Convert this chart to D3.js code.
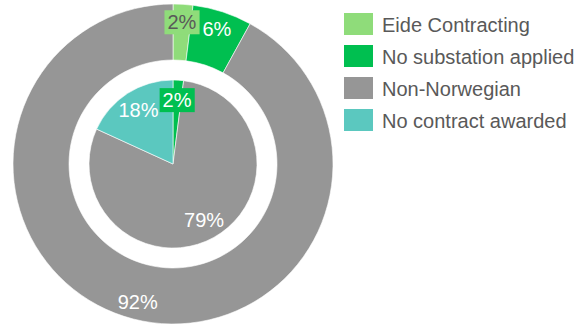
<!DOCTYPE html>
<html>
<head>
<meta charset="utf-8">
<script src="https://cdn.jsdelivr.net/npm/d3@7/dist/d3.min.js"></script>
<style>
  html, body { margin: 0; padding: 0; background: #fff; }
  svg { display: block; font-family: "Liberation Sans", Arial, sans-serif; }
</style>
</head>
<body>
<svg id="chart" width="587" height="329"></svg>
<script>
// Categories shared by both rings, in legend order
const categories = ["Eide Contracting", "No substation applied", "Non-Norwegian", "No contract awarded"];
const colors = ["#8fdc7a", "#00bf50", "#969696", "#5bc8bf"];

// Outer ring (percent)
const outerValues = [2, 6, 92, 0];
// Inner pie (percent)
const innerValues = [0, 2, 79, 18];

const svg = d3.select("#chart");
const cx = 173, cy = 164;

const pie = d3.pie().sort(null).value(d => d.value);

function rows(values) {
  return categories.map((c, i) => ({ cat: c, value: values[i], i }));
}

function drawRing(values, r0, r1, labelR) {
  const g = svg.append("g").attr("transform", `translate(${cx},${cy})`);
  const arcs = pie(rows(values)).filter(d => d.data.value > 0);
  const arc = d3.arc().innerRadius(r0).outerRadius(r1);
  g.selectAll("path").data(arcs).join("path")
    .attr("d", arc)
    .attr("fill", d => colors[d.data.i])
    .attr("stroke", "#fff")
    .attr("stroke-width", 0.6);

  const labelArc = d3.arc().innerRadius(labelR).outerRadius(labelR);
  const lg = g.selectAll("g.lbl").data(arcs).join("g")
    .attr("class", "lbl")
    .attr("transform", d => `translate(${labelArc.centroid(d)})`);

  lg.each(function (d) {
    const sel = d3.select(this);
    const narrow = d.data.value < 3;
    const t = sel.append("text")
      .attr("text-anchor", "middle")
      .attr("dy", "0.35em")
      .attr("font-size", 20)
      .attr("fill", (narrow && d.data.i === 0) ? "#595959" : "#fff")
      .text(d.data.value + "%");
    if (narrow) {
      // filled label box so the text stays readable across the slice edges
      const b = t.node().getBBox();
      sel.insert("rect", "text")
        .attr("x", b.x - 3)
        .attr("y", b.y - 1)
        .attr("width", b.width + 6)
        .attr("height", b.height + 2)
        .attr("fill", colors[d.data.i]);
    }
  });
}

drawRing(outerValues, 104, 160, 142);
drawRing(innerValues, 0, 84, 64);

// Legend
const legend = svg.append("g").attr("transform", "translate(344,13)");
const item = legend.selectAll("g").data(categories).join("g")
  .attr("transform", (d, i) => `translate(0,${i * 32})`);
item.append("rect")
  .attr("width", 29).attr("height", 22)
  .attr("fill", (d, i) => colors[i]);
item.append("text")
  .attr("x", 38).attr("y", 19)
  .attr("font-size", 20)
  .attr("fill", "#595959")
  .text(d => d);
</script>
</body>
</html>
